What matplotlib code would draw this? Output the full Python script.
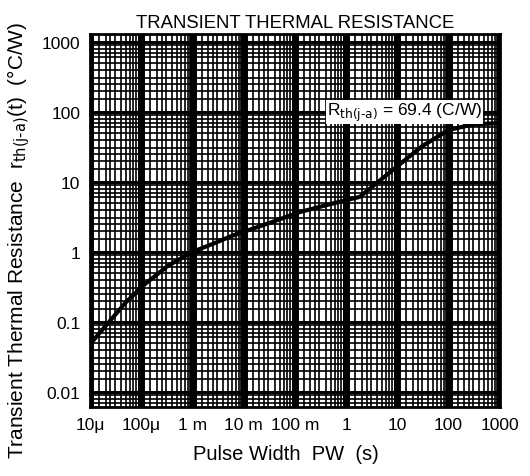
import numpy as np
import matplotlib.pyplot as plt
from matplotlib.ticker import FixedLocator, NullFormatter

plt.rcParams['font.family'] = ['Liberation Sans', 'DejaVu Sans']

# curve
pw = [1e-5, 2e-5, 5e-5, 1.2e-4, 3.3e-4, 1e-3, 2.5e-3, 6e-3, 0.028, 0.125,
      0.55, 1.85, 7, 30, 100, 300, 1000]
rth = [0.048, 0.087, 0.19, 0.35, 0.63, 1.0, 1.3, 1.7, 2.5, 3.7,
       4.9, 6.1, 13.5, 32, 55, 66, 69]

xticks = [1e-5, 1e-4, 1e-3, 1e-2, 1e-1, 1, 10, 100, 1000]
xlabels = ['10μ', '100μ', '1 m', '10 m', '100 m', '1', '10', '100', '1000']
yticks = [0.01, 0.1, 1, 10, 100, 1000]
ylabels = ['0.01', '0.1', '1', '10', '100', '1000']

fig = plt.figure(figsize=(5.3, 4.77), dpi=100)
ax = fig.add_axes([0.170, 0.145, 0.773, 0.782])
ax.set_xscale('log')
ax.set_yscale('log')
ax.set_xlim(1e-5, 1000)
ax.set_ylim(0.0061, 1300)

# dense log-paper grid
subs = [1.5, 2, 2.5, 3, 4, 5, 6, 7, 8, 9]
xminor = [m * 10.0**d for d in range(-5, 3) for m in subs]
yminor = [m * 10.0**d for d in range(-3, 4) for m in subs if m * 10.0**d < 1300]
ax.xaxis.set_minor_locator(FixedLocator(xminor))
ax.yaxis.set_minor_locator(FixedLocator(yminor))
ax.xaxis.set_minor_formatter(NullFormatter())
ax.yaxis.set_minor_formatter(NullFormatter())
ax.xaxis.grid(True, which='major', color='black', lw=5)
ax.yaxis.grid(True, which='major', color='black', lw=2.2)
ax.grid(True, which='minor', color='black', lw=1.2)
ax.set_axisbelow(True)

ax.plot(pw, rth, color='black', lw=3, zorder=3)

ax.set_xticks(xticks)
ax.set_xticklabels(xlabels)
ax.set_yticks(yticks)
ax.set_yticklabels(ylabels)
ax.tick_params(which='both', length=0, labelsize=12.5, pad=7)

for s in ax.spines.values():
    s.set_linewidth(2)

ax.text(0.42, 100, 'R$_{\\mathrm{th(j\u2010a)}}$ = 69.4 (C/W)', fontsize=12.5,
        va='center', ha='left', zorder=4,
        bbox=dict(facecolor='white', edgecolor='none', pad=0.5))

ax.set_title('TRANSIENT THERMAL RESISTANCE', fontsize=13.3, pad=5)
ax.set_xlabel('Pulse Width  PW  (s)', fontsize=14.5)
ax.set_ylabel('Transient Thermal Resistance  r$_{\\mathrm{th(j\u2010a)}}$(t)  (°C/W)',
              fontsize=15)
ax.xaxis.set_label_coords(0.478, -0.10)
ax.yaxis.set_label_coords(-0.142, 0.45)

fig.savefig('out.png', dpi=100)
